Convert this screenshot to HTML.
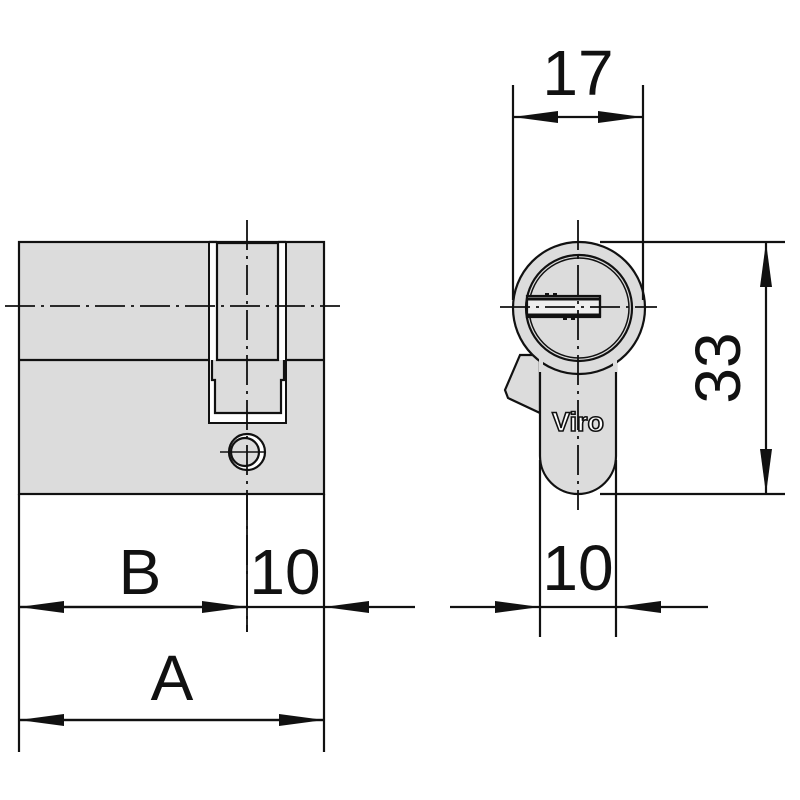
<!DOCTYPE html>
<html><head><style>html,body{margin:0;padding:0;background:#fff}svg{display:block}</style></head><body>
<svg width="800" height="800" viewBox="0 0 800 800" xmlns="http://www.w3.org/2000/svg">
<defs>
<marker id="a" viewBox="0 0 45 12" refX="45" refY="6" markerWidth="45" markerHeight="12" markerUnits="userSpaceOnUse" orient="auto"><path d="M0,0 L45,6 L0,12 Z" fill="#111"/></marker>
</defs>
<g stroke="#111" stroke-width="2.2" fill="none">
<rect x="19" y="242" width="305" height="252" fill="#dcdcdc"/>
<line x1="19" y1="360" x2="324" y2="360"/>
<path d="M209,242 V423 H286 V242" fill="#fff" stroke-width="2"/>
<path d="M209,242 H217 M278,242 H286" />
<path d="M212,360 V380 H215 V413 H281 V380 H284 V360" fill="#dcdcdc"/>
<path d="M217,243 H278 V360 H217Z" fill="#dcdcdc"/>
<circle cx="247" cy="452" r="18" fill="#fff"/>
<circle cx="245" cy="452" r="14" fill="#dcdcdc"/>
<line x1="5" y1="306" x2="340" y2="306" stroke-width="1.8" stroke-dasharray="30,6,3,6"/>
<line x1="247" y1="220" x2="247" y2="632" stroke-width="1.8" stroke-dasharray="30,6,3,6"/>
<line x1="247" y1="494" x2="247" y2="632" stroke-width="1.8"/>
<line x1="220" y1="452" x2="265" y2="452" stroke-width="1.6"/>
<line x1="19" y1="494" x2="19" y2="752"/>
<line x1="324" y1="494" x2="324" y2="752"/>
<line x1="247" y1="607" x2="19" y2="607" marker-end="url(#a)"/>
<line x1="19" y1="607" x2="247" y2="607" marker-end="url(#a)"/>
<line x1="415" y1="607" x2="324" y2="607" marker-end="url(#a)"/>
<line x1="247" y1="607" x2="324" y2="607"/>
<line x1="324" y1="720" x2="19" y2="720" marker-end="url(#a)"/>
<line x1="19" y1="720" x2="324" y2="720" marker-end="url(#a)"/>
<path d="M520,355 L505,390 L508,398 L540,413 L540,355Z" fill="#dcdcdc"/>
<path d="M540,355 V456 A38,38 0 0 0 616,456 V355" fill="#dcdcdc"/>
<circle cx="579" cy="308" r="66" fill="#dcdcdc"/>
<line x1="541" y1="358" x2="541" y2="372" stroke="#dcdcdc" stroke-width="4"/>
<line x1="615" y1="358" x2="615" y2="372" stroke="#dcdcdc" stroke-width="4"/>
<circle cx="579" cy="308" r="53"/>
<circle cx="579" cy="308" r="50" stroke-width="1.5"/>
<rect x="527" y="296" width="73" height="21" fill="#eee"/>
<line x1="527" y1="299" x2="600" y2="299" stroke-width="3"/>
<line x1="527" y1="315" x2="600" y2="315" stroke-width="3"/>
<line x1="600" y1="296" x2="600" y2="317"/>
<rect x="545" y="293" width="4" height="4" fill="#111" stroke="none"/>
<rect x="553" y="293" width="4" height="4" fill="#111" stroke="none"/>
<rect x="563" y="316" width="4" height="4" fill="#111" stroke="none"/>
<rect x="571" y="316" width="4" height="4" fill="#111" stroke="none"/>
<line x1="500" y1="307" x2="657" y2="307" stroke-width="1.8" stroke-dasharray="30,6,3,6"/>
<line x1="578" y1="220" x2="578" y2="510" stroke-width="1.8" stroke-dasharray="30,6,3,6"/>
<line x1="513" y1="85" x2="513" y2="300"/>
<line x1="643" y1="85" x2="643" y2="300"/>
<line x1="578" y1="117" x2="513" y2="117" marker-end="url(#a)"/>
<line x1="578" y1="117" x2="643" y2="117" marker-end="url(#a)"/>
<line x1="600" y1="242" x2="785" y2="242"/>
<line x1="600" y1="494" x2="785" y2="494"/>
<line x1="766" y1="368" x2="766" y2="242" marker-end="url(#a)"/>
<line x1="766" y1="368" x2="766" y2="494" marker-end="url(#a)"/>
<line x1="540" y1="460" x2="540" y2="637"/>
<line x1="616" y1="460" x2="616" y2="637"/>
<line x1="450" y1="607" x2="540" y2="607" marker-end="url(#a)"/>
<line x1="708" y1="607" x2="616" y2="607" marker-end="url(#a)"/>
<line x1="540" y1="607" x2="616" y2="607"/>
</g>
<g font-family="Liberation Sans, sans-serif" fill="#111" font-size="64" text-anchor="middle">
<text x="140" y="594">B</text>
<text x="285" y="594">10</text>
<text x="172" y="700">A</text>
<text x="578" y="95">17</text>
<text x="578" y="590">10</text>
<text transform="translate(740,368) rotate(-90)">33</text>
<text x="578" y="431" font-size="27" font-weight="bold" fill="#fff" stroke="#111" stroke-width="1.6">Viro</text>
</g>
</svg>
</body></html>
